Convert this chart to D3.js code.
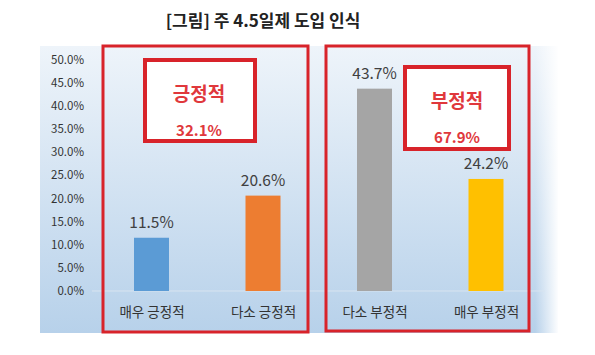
<!DOCTYPE html>
<html><head><meta charset="utf-8">
<script src="https://cdn.jsdelivr.net/npm/d3@7"></script>
<style>body{margin:0;background:#fff}svg{display:block}</style>
</head><body>
<script>
const categories = ["매우 긍정적","다소 긍정적","다소 부정적","매우 부정적"];
const values = [11.5, 20.6, 43.7, 24.2];
const colors = ["#5b9bd5","#ed7d31","#a5a5a5","#ffc000"];
const yTicks = [0,5,10,15,20,25,30,35,40,45,50];
const groups = [
  {name:"긍정적", total:"32.1%"},
  {name:"부정적", total:"67.9%"}
];
const title = "[그림] 주 4.5일제 도입 인식";

const W=595,H=355;
const svg=d3.select("body").append("svg").attr("width",W).attr("height",H);
const defs=svg.append("defs");
const g1=defs.append("linearGradient").attr("id","bg").attr("x1",0).attr("y1",0).attr("x2",0).attr("y2",1);
g1.append("stop").attr("offset","0%").attr("stop-color","#eef4fa");
g1.append("stop").attr("offset","100%").attr("stop-color","#b7d1ea");
const g2=defs.append("linearGradient").attr("id","fade").attr("x1",0).attr("y1",0).attr("x2",1).attr("y2",0);
g2.append("stop").attr("offset","0%").attr("stop-color","#fff").attr("stop-opacity",0);
g2.append("stop").attr("offset","100%").attr("stop-color","#fff").attr("stop-opacity",1);

const font="'Noto Sans CJK KR','Noto Sans',sans-serif";

svg.append("text").attr("x",263).attr("y",27).attr("text-anchor","middle")
  .attr("font-family",font).attr("font-weight",700).attr("font-size",17).attr("fill","#222").text(title);

// panel
svg.append("rect").attr("x",40).attr("y",46).attr("width",518).attr("height",287).attr("fill","url(#bg)");
svg.append("rect").attr("x",535).attr("y",46).attr("width",24).attr("height",287).attr("fill","url(#fade)");

const y=d3.scaleLinear().domain([0,50]).range([291,59.5]);
const x=d3.scalePoint().domain(categories).range([95.75,541.75]).padding(0.5);
const bw=35;

// y axis
const yAxis=svg.append("g").attr("transform","translate(84,0)")
  .call(d3.axisLeft(y).tickValues(yTicks).tickSize(0).tickPadding(0).tickFormat(d=>d.toFixed(1)+"%"));
yAxis.select(".domain").remove();
yAxis.selectAll("text").attr("font-family",font).attr("font-size",11.5).attr("fill","#333");

// baseline
svg.append("line").attr("x1",92).attr("x2",545).attr("y1",y(0)).attr("y2",y(0)).attr("stroke","#d8e4f0").attr("stroke-width",1);

// bars
svg.selectAll("rect.bar").data(values).enter().append("rect").attr("class","bar")
  .attr("x",(d,i)=>x(categories[i])-bw/2).attr("width",bw)
  .attr("y",d=>y(d)).attr("height",d=>y(0)-y(d)).attr("fill",(d,i)=>colors[i]);

svg.selectAll("text.val").data(values).enter().append("text").attr("class","val")
  .attr("x",(d,i)=>x(categories[i])).attr("y",d=>y(d)-10).attr("text-anchor","middle")
  .attr("font-family",font).attr("font-size",15.5).attr("fill","#404040").text(d=>d.toFixed(1)+"%");

// category axis
const xAxis=svg.append("g").attr("transform",`translate(0,${y(0)})`)
  .call(d3.axisBottom(x).tickSize(0).tickPadding(16));
xAxis.select(".domain").remove();
xAxis.selectAll("text").attr("font-family",font).attr("font-size",13.5).attr("fill","#333");

// red frames
const red="#d8232a";
const outer=[[103,46,205,286],[326,46,203,285]];
svg.selectAll("rect.outer").data(outer).enter().append("rect")
  .attr("x",d=>d[0]).attr("y",d=>d[1]).attr("width",d=>d[2]).attr("height",d=>d[3])
  .attr("fill","none").attr("stroke",red).attr("stroke-width",3);
const inner=[[145,60,110,81],[405,67,104,82]];
inner.forEach((b,i)=>{
  svg.append("rect").attr("x",b[0]).attr("y",b[1]).attr("width",b[2]).attr("height",b[3])
    .attr("fill","#fff").attr("stroke",red).attr("stroke-width",4);
  const cx=b[0]+b[2]/2+ (i===0?-1:0);
  svg.append("text").attr("x",cx).attr("y",b[1]+41).attr("text-anchor","middle")
    .attr("font-family",font).attr("font-weight",700).attr("font-size",19).attr("fill","#e0383c").text(groups[i].name);
  svg.append("text").attr("x",cx).attr("y",b[1]+76).attr("text-anchor","middle")
    .attr("font-family",font).attr("font-weight",700).attr("font-size",15).attr("fill","#e0383c").text(groups[i].total);
});
</script>
</body></html>
